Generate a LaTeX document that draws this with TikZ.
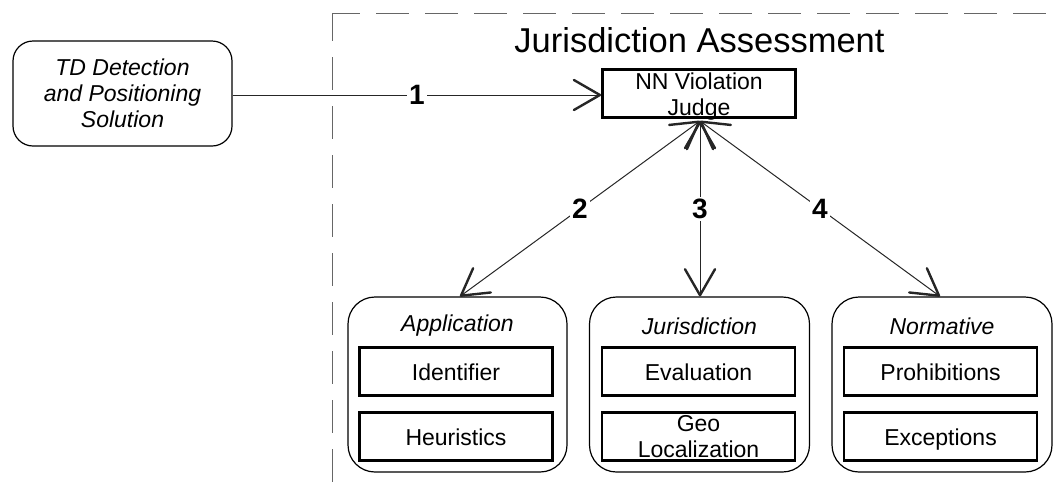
\documentclass[tikz,border=0pt]{standalone}
\usepackage{fontspec}
\setmainfont{Liberation Sans}
\usetikzlibrary{arrows.meta}
\pgfdeclarearrow{
  name = VBarb,
  parameters = {\the\pgfarrowlength,\the\pgfarrowwidth},
  setup code = {
    \pgfarrowssettipend{1.2pt}
    \pgfarrowssetlineend{0pt}
    \pgfarrowsupperhullpoint{-\pgfarrowlength}{.5\pgfarrowwidth}
    \pgfarrowsupperhullpoint{0pt}{0pt}
  },
  drawing code = {
    \pgfsetdash{}{0pt}
    \pgfsetlinewidth{2.4pt}\pgfsetroundjoin\pgfsetroundcap
    \pgfpathmoveto{\pgfqpoint{-\pgfarrowlength}{.5\pgfarrowwidth}}
    \pgfpathlineto{\pgfqpoint{0pt}{0pt}}
    \pgfpathlineto{\pgfqpoint{-\pgfarrowlength}{-.5\pgfarrowwidth}}
    \pgfusepathqstroke
  },
  defaults = {length=26pt, width=30pt}
}
\begin{document}
\begin{tikzpicture}[x=1pt,y=-1pt,
  txt/.style={font=\fontsize{23}{26}\selectfont, align=center},
  tdbox/.style={draw, line width=1.2pt, rounded corners=20pt, minimum width=219pt, minimum height=105pt, inner sep=0pt, txt, font=\fontsize{23}{26}\selectfont\itshape},
  judgebox/.style={draw, line width=2.8pt, minimum width=193pt, minimum height=48pt, inner sep=0pt},
  groupbox/.style={draw, line width=1.2pt, rounded corners=27pt, minimum width=219pt, minimum height=175pt, inner sep=0pt},
  grouptitle/.style={font=\fontsize{23}{26}\selectfont\itshape},
  innerbox/.style={draw, line width=2.8pt, minimum width=193pt, minimum height=48pt, inner sep=0pt, txt, text height=17pt, text depth=0pt},
  conn/.style={line width=1pt, draw=black!85},
  tipx/.tip={VBarb[length=26pt, width=30pt]},
  num/.style={fill=white, inner sep=2pt, font=\fontsize{28}{30}\selectfont\bfseries},
  frame/.style={draw=black!60, line width=1pt, dash pattern=on 33pt off 16pt, dash phase=5pt}
]
\useasboundingbox (0,0) rectangle (1056,488);

% dashed frame
\coordinate (fc) at (332,13);
\coordinate (fr) at (1052,13);
\coordinate (fb) at (332,488);
\draw[frame] (fc) -- (fr);
\draw[frame] (fc) -- (fb);

\node[font=\fontsize{34.5}{36}\selectfont] (title) at (699.5,40) {Jurisdiction Assessment};

\node[tdbox] (td) at (122.5,93.5) {TD Detection\\and Positioning\\Solution};
\node[judgebox] (judge) at (699,93.5) {};
\node[txt] (judget) at (699,97) {NN Violation\\Judge};

% groups
\node[groupbox] (app) at (457.5,384.5) {};
\node[grouptitle] (appt) at (457.5,326) {Application};
\node[innerbox] (ident) at (456,371.5) {Identifier};
\node[innerbox] (heur) at (456,436.5) {Heuristics};

\node[groupbox, minimum width=220pt] (jur) at (699.5,384.5) {};
\node[grouptitle] (jurt) at (699.5,326) {Jurisdiction};
\node[innerbox] (eval) at (698.5,371.5) {Evaluation};
\node[innerbox, text height=, text depth=] (geo) at (698.5,436.5) {Geo\\Localization};

\node[groupbox, minimum width=220pt] (norm) at (942,384.5) {};
\node[grouptitle] (normt) at (942,326) {Normative};
\node[innerbox] (proh) at (940.5,371.5) {Prohibitions};
\node[innerbox] (exc) at (940.5,436.5) {Exceptions};

% connectors
\draw[conn, -tipx] (td.east |- 0,95) -- node[num] {1} (judge.west |- 0,95);
\coordinate (jb) at (700,121);
\draw[conn, tipx-tipx] (jb) -- node[num] {2} (app.north -| 460,0);
\draw[conn, tipx-tipx] (jb) -- node[num] {3} (jur.north -| 700,0);
\draw[conn, tipx-tipx] (jb) -- node[num] {4} (norm.north -| 940,0);
\end{tikzpicture}
\end{document}
